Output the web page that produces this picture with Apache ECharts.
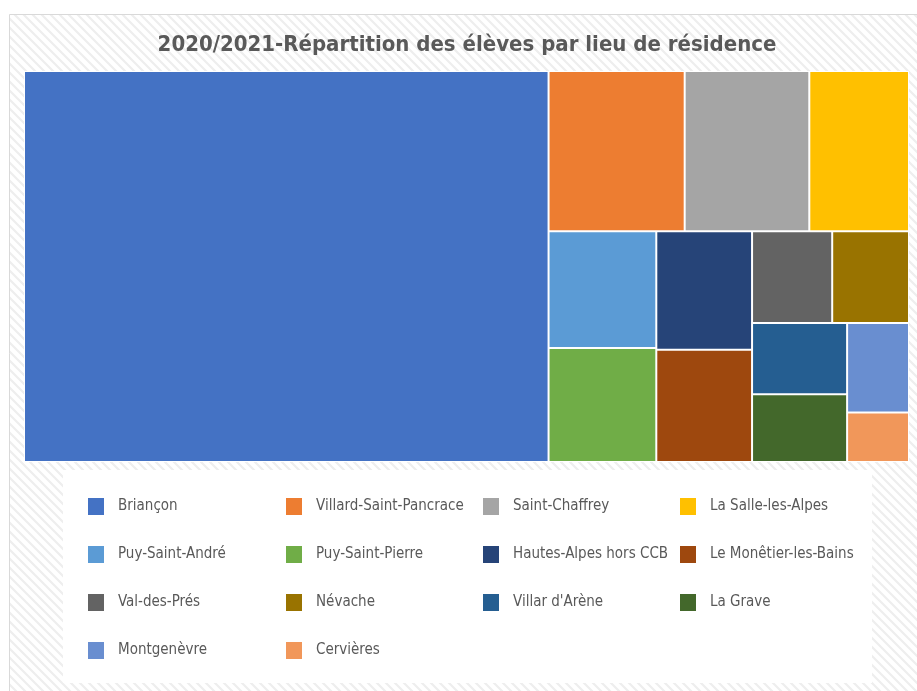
<!DOCTYPE html>
<html>
<head>
<meta charset="utf-8">
<script src="https://cdn.jsdelivr.net/npm/echarts@6/dist/echarts.min.js"></script>
<style>
html,body{margin:0;padding:0;background:#fff;}
#main{width:917px;height:691px;}
</style>
</head>
<body>
<div id="main"></div>
<script>
const titleText = '2020/2021-Répartition des élèves par lieu de résidence';
const communes = ['Briançon','Villard-Saint-Pancrace','Saint-Chaffrey','La Salle-les-Alpes','Puy-Saint-André','Puy-Saint-Pierre','Hautes-Alpes hors CCB','Le Monêtier-les-Bains','Val-des-Prés','Névache',"Villar d'Arène",'La Grave','Montgenèvre','Cervières'];
const eleves = [668, 71, 65, 52, 41, 40, 37, 35, 24, 23, 22, 21, 18, 10];
const couleurs = ['#4472C4','#ED7D31','#A5A5A5','#FFC000','#5B9BD5','#70AD47','#264478','#9E480E','#636363','#997300','#255E91','#43682B','#698ED0','#F1975A'];

const FONT = '"Liberation Sans Narrow", "DejaVu Sans Condensed", sans-serif';

// hatch pattern
const P = 9;
const pc = document.createElement('canvas');
pc.width = P; pc.height = P;
const ctx = pc.getContext('2d');
ctx.fillStyle = '#ffffff';
ctx.fillRect(0,0,P,P);
ctx.strokeStyle = '#eeeeee';
ctx.lineWidth = 2.2;
ctx.beginPath();
ctx.moveTo(-2,-2); ctx.lineTo(P+2,P+2);
ctx.moveTo(-P-2,-2); ctx.lineTo(2,P+2);
ctx.moveTo(P-2,-2); ctx.lineTo(2*P+2,P+2);
ctx.stroke();

const treeData = communes.map((n,i)=>({name:n, value:eleves[i], itemStyle:{color:couleurs[i]}}));
const pieData = communes.map((n,i)=>({name:n, value:eleves[i], itemStyle:{color:couleurs[i]}}));

const colLeft = [88, 286, 483, 680];
const legends = colLeft.map((x,c)=>({
  orient:'vertical', left:x, top:498, padding:0, itemWidth:16, itemHeight:17, itemGap:31,
  icon:'rect', selectedMode:false,
  data: communes.filter((n,i)=>i%4===c),
  textStyle:{color:'#595959', fontSize:15, fontFamily:FONT, padding:[0,0,0,9]}
}));

const chart = echarts.init(document.getElementById('main'), null, {renderer:'canvas'});
chart.setOption({
  animation:false,
  title:{text:titleText, left:467, top:34, padding:0, textAlign:'center',
    textStyle:{color:'#595959', fontSize:22, fontWeight:'bold', fontFamily:FONT}},
  legend: legends,
  graphic:[
    {type:'rect', z:-10, silent:true, shape:{x:9.5,y:14.5,width:920,height:690},
      style:{fill:{image:pc, repeat:'repeat'}, stroke:'#d9d9d9', lineWidth:1}},
    {type:'rect', z:-9, silent:true, shape:{x:63,y:470,width:809,height:213},
      style:{fill:'#ffffff'}}
  ],
  series:[
    {type:'treemap', left:24, top:71, width:885, height:391,
      roam:false, nodeClick:false, squareRatio:1,
      breadcrumb:{show:false}, label:{show:false}, upperLabel:{show:false},
      emphasis:{disabled:true},
      itemStyle:{borderWidth:1, gapWidth:2, borderColor:'#ffffff'},
      levels:[
        {itemStyle:{borderWidth:1, gapWidth:2, borderColor:'#ffffff'}},
        {itemStyle:{borderWidth:0}}
      ],
      data:treeData},
    {type:'pie', center:[-300,-300], radius:5, silent:true,
      label:{show:false}, labelLine:{show:false}, data:pieData}
  ]
});
</script>
</body>
</html>
